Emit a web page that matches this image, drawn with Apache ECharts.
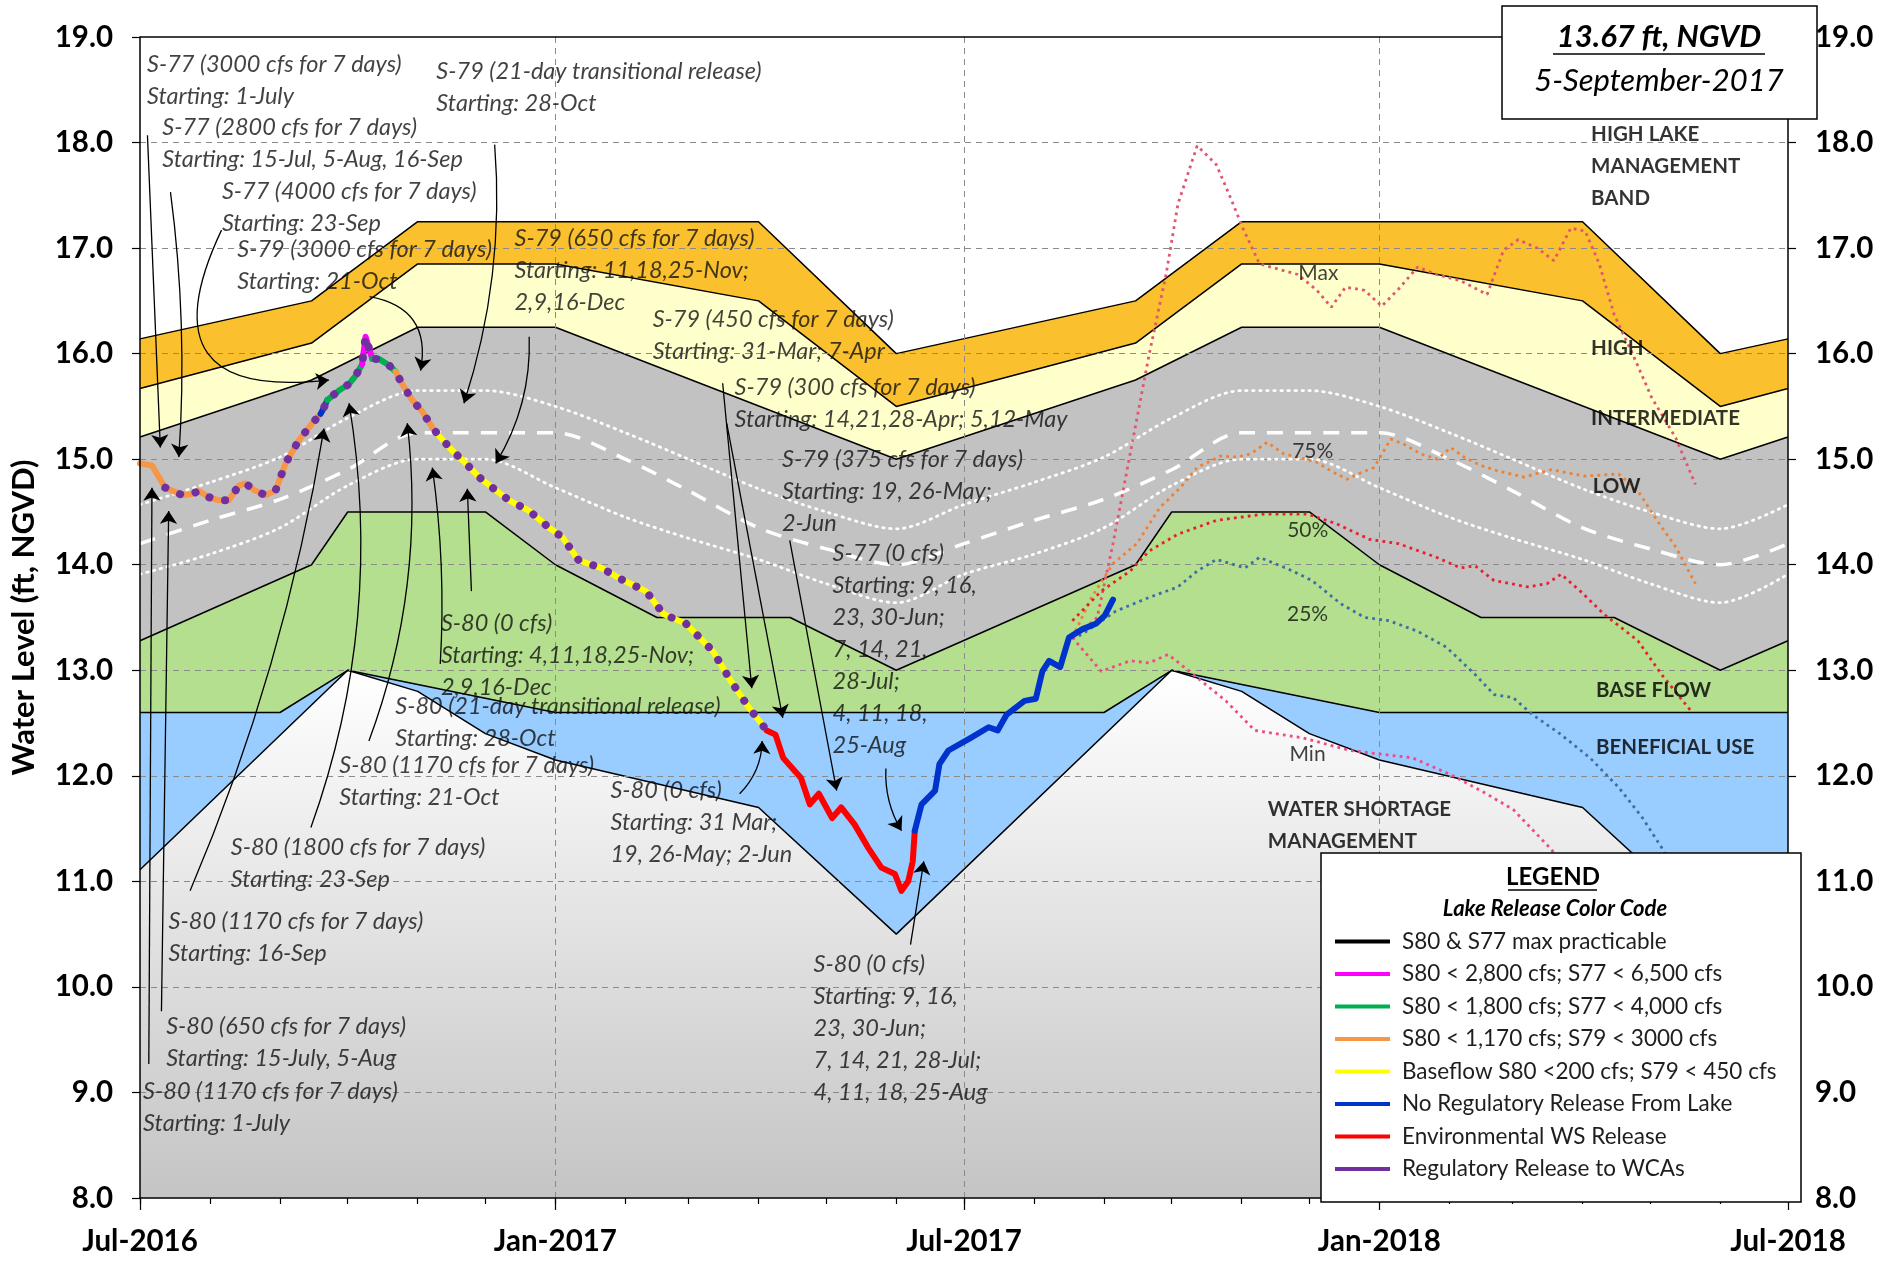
<!DOCTYPE html>
<html>
<head>
<meta charset="utf-8">
<title>Lake Okeechobee Water Level</title>
<script src="https://cdn.jsdelivr.net/npm/echarts@6.0.0/dist/echarts.min.js"></script>
<style>
html,body{margin:0;padding:0;background:#ffffff;}
#chart{width:1883px;height:1262px;}
</style>
</head>
<body>
<div id="chart"></div>
<script>
// ---------------- axes / ticks ----------------
const xStart = '2016-07-01', xEnd = '2018-07-01';
const xLabelDates = ['2016-07-01','2017-01-01','2017-07-01','2018-01-01','2018-07-01'];
const xGridDates = ['2017-01-01','2017-07-01','2018-01-01'];
const MONTHS = ['Jan','Feb','Mar','Apr','May','Jun','Jul','Aug','Sep','Oct','Nov','Dec'];
const MONTHS_FULL = ['January','February','March','April','May','June','July','August','September','October','November','December'];
const yMin = 8, yMax = 19, yStep = 1;
const yAxisName = 'Water Level (ft, NGVD)';

// ---------------- regulation schedule lines (date, ft NGVD) ----------------
const hlmbTop = [['2016-07-01',16.14],['2016-09-15',16.5],['2016-11-01',17.25],['2017-04-01',17.25],['2017-06-01',16.0],['2017-09-15',16.5],['2017-11-01',17.25],['2018-04-01',17.25],['2018-06-01',16.0],['2018-07-01',16.14]];
const highTop = [['2016-07-01',15.67],['2016-09-15',16.1],['2016-11-01',16.85],['2017-01-01',16.85],['2017-04-01',16.5],['2017-06-01',15.5],['2017-09-15',16.1],['2017-11-01',16.85],['2018-01-01',16.85],['2018-04-01',16.5],['2018-06-01',15.5],['2018-07-01',15.67]];
const intermediateTop = [['2016-07-01',15.21],['2016-09-15',15.75],['2016-11-01',16.25],['2017-01-01',16.25],['2017-06-01',15.0],['2017-09-15',15.75],['2017-11-01',16.25],['2018-01-01',16.25],['2018-06-01',15.0],['2018-07-01',15.21]];
const baseFlowTop = [['2016-07-01',13.28],['2016-09-15',14.0],['2016-10-01',14.5],['2016-12-01',14.5],['2017-01-01',14.0],['2017-02-15',13.5],['2017-04-15',13.5],['2017-06-01',13.0],['2017-09-15',14.0],['2017-10-01',14.5],['2017-12-01',14.5],['2018-01-01',14.0],['2018-02-15',13.5],['2018-04-15',13.5],['2018-06-01',13.0],['2018-07-01',13.28]];
const beneficialTop = [['2016-07-01',12.6],['2016-09-01',12.6],['2016-10-01',13.0],['2017-01-01',12.6],['2017-09-01',12.6],['2017-10-01',13.0],['2018-01-01',12.6],['2018-07-01',12.6]];
const wsmTop = [['2016-07-01',11.11],['2016-10-01',13.0],['2016-11-01',12.8],['2016-12-01',12.4],['2017-01-01',12.15],['2017-04-01',11.7],['2017-06-01',10.5],['2017-10-01',13.0],['2017-11-01',12.8],['2017-12-01',12.4],['2018-01-01',12.15],['2018-04-01',11.7],['2018-06-01',10.5],['2018-07-01',11.11]];

// low sub-band guide lines (white)
const lowUpper = [['2016-07-01',14.57],['2016-08-01',14.78],['2016-09-01',15.02],['2016-10-01',15.39],['2016-11-01',15.65],['2016-12-01',15.65],['2017-01-01',15.5],['2017-02-01',15.25],['2017-03-01',15.0],['2017-04-01',14.72],['2017-05-01',14.5],['2017-06-01',14.34],['2017-07-01',14.57],['2017-08-01',14.78],['2017-09-01',15.02],['2017-10-01',15.39],['2017-11-01',15.65],['2017-12-01',15.65],['2018-01-01',15.5],['2018-02-01',15.25],['2018-03-01',15.0],['2018-04-01',14.72],['2018-05-01',14.5],['2018-06-01',14.34],['2018-07-01',14.57]];
const lowMiddle = [['2016-07-01',14.2],['2016-08-01',14.42],['2016-09-01',14.62],['2016-10-01',14.9],['2016-11-01',15.25],['2017-01-01',15.25],['2017-02-01',15.0],['2017-03-01',14.7],['2017-04-01',14.35],['2017-05-01',14.15],['2017-06-01',14.0],['2017-07-01',14.2],['2017-08-01',14.42],['2017-09-01',14.62],['2017-10-01',14.9],['2017-11-01',15.25],['2018-01-01',15.25],['2018-02-01',15.0],['2018-03-01',14.7],['2018-04-01',14.35],['2018-05-01',14.15],['2018-06-01',14.0],['2018-07-01',14.2]];
const lowLower = [['2016-07-01',13.91],['2016-08-01',14.1],['2016-09-01',14.35],['2016-10-01',14.75],['2016-11-01',15.0],['2016-12-01',15.0],['2017-01-01',14.73],['2017-02-01',14.45],['2017-03-01',14.25],['2017-04-01',14.05],['2017-05-01',13.82],['2017-06-01',13.64],['2017-07-01',13.91],['2017-08-01',14.1],['2017-09-01',14.35],['2017-10-01',14.75],['2017-11-01',15.0],['2017-12-01',15.0],['2018-01-01',14.73],['2018-02-01',14.45],['2018-03-01',14.25],['2018-04-01',14.05],['2018-05-01',13.82],['2018-06-01',13.64],['2018-07-01',13.91]];

// ---------------- observed lake stage (days since 2016-07-01, ft) ----------------
const stageOrange1 = [[0,14.96],[5.3,14.94],[11.2,14.73],[15.7,14.69],[18.6,14.66],[23.1,14.67],[26,14.70],[30.5,14.64],[34.9,14.61],[39.3,14.61],[43.8,14.75],[46.7,14.77],[51.1,14.70],[55.6,14.66],[60,14.70],[64.5,14.96],[70.4,15.18],[76.3,15.34],[80,15.43]];
const stageBlue1 = [[80,15.43],[81.5,15.49],[82.9,15.56]];
const stageGreen1 = [[82.9,15.56],[88.1,15.65],[92.5,15.71],[95.5,15.79],[98.4,15.90]];
const stageMagenta = [[98.4,15.90],[99.9,16.16],[102.9,15.95]];
const stageGreen2 = [[102.9,15.95],[105.8,15.95],[110.3,15.89],[113.2,15.83]];
const stageOrange2 = [[113.2,15.83],[116.2,15.71],[120.6,15.56],[125.1,15.45],[129.5,15.30],[132.5,15.22]];
const stageYellow = [[132.5,15.22],[138.4,15.08],[144.3,14.96],[150.2,14.83],[156.1,14.73],[163.5,14.61],[172.4,14.51],[181.2,14.35],[187.1,14.26],[194.4,14.04],[204.3,13.97],[214.2,13.85],[224.1,13.75],[232,13.53],[241.9,13.44],[253.8,13.18],[261.7,12.90],[269.6,12.65],[277.6,12.43]];
const stageRed = [[277.6,12.43],[281.5,12.39],[284.9,12.17],[292.8,11.98],[296.7,11.73],[300.7,11.83],[306.6,11.60],[310.6,11.70],[316.5,11.54],[322.5,11.32],[328.4,11.13],[334.4,11.07],[337.3,10.91],[340.3,11.00],[342.3,11.19],[343.2,11.48]];
const stageBlue2 = [[343.2,11.48],[346.2,11.73],[352.2,11.86],[354.1,12.11],[358.1,12.24],[368,12.36],[375.9,12.46],[379.9,12.43],[383.9,12.58],[391.8,12.71],[396.8,12.73],[399.7,12.99],[402.7,13.09],[407.6,13.03],[411.5,13.31],[417.5,13.39],[423.4,13.44],[427.4,13.52],[431,13.67]];
const wcaReleaseRange = [11, 277.6];   // regulatory release to WCAs (purple overlay), days

// ---------------- position analysis projections (days since 2016-07-01, ft) ----------------
const pctMax = [[416,13.35],[424,13.5],[431,14.2],[438.6,15.05],[447,15.99],[454.5,16.75],[459.8,17.42],[468.3,17.97],[476.8,17.79],[483,17.48],[488.5,17.19],[495.9,16.85],[504.3,16.8],[512.9,16.75],[521.3,16.6],[527.7,16.44],[534,16.63],[542.5,16.6],[550,16.45],[557.4,16.61],[565.9,16.82],[574.3,16.75],[585,16.69],[596.7,16.56],[604,16.98],[610.5,17.08],[618.9,17.0],[626.3,16.88],[633.8,17.19],[640.2,17.16],[646.4,16.85],[653,16.37],[661.3,15.99],[669.7,15.58],[680.3,15.2],[689,14.76]];
const pct75 = [[413,13.31],[421.5,13.69],[431,14.01],[441.6,14.2],[451.7,14.54],[460.8,14.73],[468.2,14.92],[478.6,15.03],[486,15.02],[491.9,15.05],[499.3,15.16],[506.7,15.05],[512.6,15.02],[521.4,14.97],[527.4,14.89],[534.7,14.81],[540.7,14.87],[546.6,14.92],[554,15.19],[560,15.14],[567.3,15.05],[574.7,15.0],[580.6,15.11],[586.5,15.02],[594,14.94],[601.3,14.89],[613.1,14.83],[625,14.9],[640,14.84],[655,14.86],[663.5,14.7],[672,14.42],[680.5,14.16],[689,13.82]];
const pct50 = [[413,13.47],[425.8,13.75],[438.6,13.94],[447,14.13],[459.8,14.29],[476.8,14.42],[498,14.48],[517,14.48],[529.8,14.39],[544.7,14.24],[557.4,14.2],[574.3,14.07],[585,13.97],[591.4,13.99],[599.8,13.85],[614.7,13.79],[623.2,13.82],[629.5,13.91],[638,13.75],[648.6,13.53],[663.5,13.28],[674,12.96],[686.8,12.62]];
const pct25 = [[413,13.3],[417.3,13.34],[432.2,13.56],[447,13.69],[459.8,13.79],[468.3,13.94],[476.8,14.05],[489.5,13.97],[495.9,14.07],[508.6,13.96],[519.2,13.85],[531.9,13.63],[542.5,13.5],[553.2,13.47],[565.9,13.37],[578.6,13.22],[591.4,12.96],[599.8,12.77],[608.3,12.74],[616.8,12.58],[629.5,12.39],[642.3,12.17],[655,11.89],[665.6,11.6],[674,11.32],[684,10.95]];
const pctMin = [[413,13.31],[425.8,12.99],[438.6,13.09],[447,13.07],[455.5,13.15],[468.3,12.93],[481,12.71],[493.8,12.43],[515,12.36],[536,12.24],[563.7,12.17],[580.7,12.01],[595.6,11.84],[608.3,11.68],[625.3,11.3],[636,10.95]];

// ---------------- legend ----------------
const releaseNames = ['S80 & S77 max practicable','S80 < 2,800 cfs; S77 < 6,500 cfs','S80 < 1,800 cfs; S77 < 4,000 cfs','S80 < 1,170 cfs; S79 < 3000 cfs','Baseflow S80 <200 cfs; S79 < 450 cfs','No Regulatory Release From Lake','Environmental WS Release','Regulatory Release to WCAs'];
const releaseColors = ['#000000','#FF00FF','#00B050','#F79646','#FFFF00','#0033CC','#FF0000','#7030A0'];

// ---------------- text annotations (anchor: day offset, ft) ----------------
const annotations = [
 {d:3.3, v:18.89, text:'S-77 (3000 cfs for 7 days)\nStarting: 1-July'},
 {d:10.1, v:18.29, text:'S-77 (2800 cfs for 7 days)\nStarting: 15-Jul, 5-Aug, 16-Sep'},
 {d:36.5, v:17.68, text:'S-77 (4000 cfs for 7 days)\nStarting: 23-Sep'},
 {d:43.3, v:17.13, text:'S-79 (3000 cfs for 7 days)\nStarting: 21-Oct'},
 {d:131.5, v:18.82, text:'S-79 (21-day transitional release)\nStarting: 28-Oct'},
 {d:166.1, v:17.24, text:'S-79 (650 cfs for 7 days)\nStarting: 11,18,25-Nov;\n2,9,16-Dec'},
 {d:227.3, v:16.47, text:'S-79 (450 cfs for 7 days)\nStarting: 31-Mar; 7-Apr'},
 {d:263.6, v:15.83, text:'S-79 (300 cfs for 7 days)\nStarting: 14,21,28-Apr; 5,12-May'},
 {d:284.6, v:15.14, text:'S-79 (375 cfs for 7 days)\nStarting: 19, 26-May;\n2-Jun'},
 {d:307, v:14.25, text:'S-77 (0 cfs)\nStarting: 9, 16,\n23, 30-Jun;\n7, 14, 21,\n28-Jul;\n4, 11, 18,\n25-Aug'},
 {d:133.5, v:13.59, text:'S-80 (0 cfs)\nStarting: 4,11,18,25-Nov;\n2,9,16-Dec'},
 {d:113.3, v:12.80, text:'S-80 (21-day transitional release)\nStarting: 28-Oct'},
 {d:88.5, v:12.25, text:'S-80 (1170 cfs for 7 days)\nStarting: 21-Oct'},
 {d:208.6, v:12.01, text:'S-80 (0 cfs)\nStarting: 31 Mar;\n19, 26-May; 2-Jun'},
 {d:40.4, v:11.47, text:'S-80 (1800 cfs for 7 days)\nStarting: 23-Sep'},
 {d:12.9, v:10.77, text:'S-80 (1170 cfs for 7 days)\nStarting: 16-Sep'},
 {d:11.8, v:9.77, text:'S-80 (650 cfs for 7 days)\nStarting: 15-July, 5-Aug'},
 {d:1.6, v:9.16, text:'S-80 (1170 cfs for 7 days)\nStarting: 1-July'},
 {d:298.6, v:10.36, text:'S-80 (0 cfs)\nStarting: 9, 16,\n23, 30-Jun;\n7, 14, 21, 28-Jul;\n4, 11, 18, 25-Aug'}
];
const arrows = [
 {from:[3.3,18.07], to:[9.0,15.11], curve:0},
 {from:[13.5,17.53], to:[17.2,15.02], curve:0.05},
 {from:[36.1,17.17], to:[83.7,15.75], curve:-0.9},
 {from:[101.7,16.54], to:[124.3,15.84], curve:0.5},
 {from:[157.1,17.98], to:[143.5,15.53], curve:0.1},
 {from:[172.4,16.16], to:[157.6,14.96], curve:0.15},
 {from:[258.1,15.72], to:[271,12.83], curve:0},
 {from:[259.9,15.34], to:[284.7,12.55], curve:0},
 {from:[287.8,14.23], to:[308.6,11.86], curve:0},
 {from:[330.4,12.07], to:[337.3,11.48], curve:-0.15},
 {from:[341.3,10.40], to:[347.2,11.19], curve:0},
 {from:[265.6,11.83], to:[275.6,12.33], curve:-0.2},
 {from:[3.9,9.27], to:[5.3,14.73], curve:0},
 {from:[9.5,9.77], to:[12.7,14.51], curve:0},
 {from:[22.2,10.91], to:[81.5,15.29], curve:-0.06},
 {from:[75.7,11.51], to:[92.6,15.53], curve:-0.13},
 {from:[101.4,12.33], to:[118.4,15.34], curve:-0.12},
 {from:[133,13.06], to:[129.5,14.92], curve:-0.05},
 {from:[146.8,13.75], to:[145,14.72], curve:0}
];
const bandLabels = [
 {d:643, v:18.22, text:'HIGH LAKE\nMANAGEMENT\nBAND'},
 {d:643, v:16.20, text:'HIGH'},
 {d:643, v:15.53, text:'INTERMEDIATE'},
 {d:643.7, v:14.89, text:'LOW'},
 {d:645.2, v:12.96, text:'BASE FLOW'},
 {d:645.2, v:12.42, text:'BENEFICIAL USE'},
 {d:499.8, v:11.83, text:'WATER SHORTAGE\nMANAGEMENT'}
];
const pctLabels = [
 {d:522.2, v:16.76, text:'Max'},
 {d:519.7, v:15.07, text:'75%'},
 {d:517.5, v:14.32, text:'50%'},
 {d:517.4, v:13.53, text:'25%'},
 {d:517.4, v:12.20, text:'Min'}
];

// ---------------- helpers ----------------
const FONT = 'Lato, "Open Sans", "DejaVu Sans", sans-serif';
const DAY = 86400000;
function ts(s){ const p = s.split('-').map(Number); return Date.UTC(p[0], p[1]-1, p[2]); }
const T0 = ts(xStart);
function dayTs(d){ return T0 + d * DAY; }
function dated(arr){ return arr.map(p => [ts(p[0]), p[1]]); }
function daily(arr){ return arr.map(p => [dayTs(p[0]), p[1]]); }

const monthTicks = [];
for (let i = 0; i <= 24; i++) monthTicks.push(Date.UTC(2016, 6 + i, 1));

const series = [];
function band(data, fill) {
  series.push({type:'line', data: dated(data), symbol:'none', z:1, silent:true,
    lineStyle:{color:'#000', width:1.5}, itemStyle:{color:'#000'},
    areaStyle:{color:fill, opacity:1, origin:'start'}});
}
band(hlmbTop, '#FBC02D');
band(highTop, '#FFFFCC');
band(intermediateTop, '#C2C2C2');
band(baseFlowTop, '#B4DF8E');
band(beneficialTop, '#99CCFF');
band(wsmTop, new echarts.graphic.LinearGradient(0,0,0,1,[{offset:0,color:'#FFFFFF'},{offset:1,color:'#C4C4C4'}]));

// grid lines over bands
const gridMarks = [];
for (let v = yMin + yStep; v < yMax; v += yStep) gridMarks.push({yAxis:v});
xGridDates.forEach(s => gridMarks.push({xAxis: ts(s)}));
gridMarks.push({yAxis:yMax, lineStyle:{color:'#000', type:'solid', width:1.5}});
series.push({type:'line', data:[[T0, null]], symbol:'none', silent:true, z:2,
  markLine:{silent:true, z:2, symbol:['none','none'], label:{show:false}, animation:false,
    lineStyle:{color:'#8a8a8a', type:[6,5], width:1},
    data: gridMarks}});

// white guide lines
series.push({type:'line', data:dated(lowUpper), symbol:'none', z:3, silent:true, smooth:0.3,
  lineStyle:{color:'#FFFFFF', width:2.8, type:[1.5,5.5], cap:'round'}});
series.push({type:'line', data:dated(lowMiddle), symbol:'none', z:3, silent:true, smooth:0.3,
  lineStyle:{color:'#FFFFFF', width:3.5, type:[16,12]}});
series.push({type:'line', data:dated(lowLower), symbol:'none', z:3, silent:true, smooth:0.3,
  lineStyle:{color:'#FFFFFF', width:2.8, type:[1.5,5.5], cap:'round'}});

// projections
function proj(data, color) {
  series.push({type:'line', data:daily(data), symbol:'none', z:4, silent:true,
    lineStyle:{color:color, width:2.8, type:[2.8,4.2]}});
}
proj(pctMax, '#E05570');
proj(pct75, '#F0802E');
proj(pct50, '#E8202E');
proj(pct25, '#3D6FA6');
proj(pctMin, '#EE4A86');

// observed stage, coloured by release category
function stage(pts, idx) {
  const c = releaseColors[idx];
  series.push({type:'line', name:releaseNames[idx], data:daily(pts), symbol:'none', z:5, silent:true,
    color:c, itemStyle:{color:c}, lineStyle:{color:c, width:6, cap:'round', join:'round'}});
}
stage(stageOrange1, 3);
stage(stageBlue1, 5);
stage(stageGreen1, 2);
stage(stageMagenta, 1);
stage(stageGreen2, 2);
stage(stageOrange2, 3);
stage(stageYellow, 4);
stage(stageRed, 6);
stage(stageBlue2, 5);
const stageAll = [].concat(stageOrange1, stageBlue1, stageGreen1, stageMagenta, stageGreen2, stageOrange2, stageYellow);
const purple = stageAll.filter(p => p[0] >= wcaReleaseRange[0] && p[0] <= wcaReleaseRange[1]);
series.push({type:'line', name:releaseNames[7], data:daily(purple), symbol:'none', z:6, silent:true,
  color:releaseColors[7], itemStyle:{color:releaseColors[7]},
  lineStyle:{color:releaseColors[7], width:8, type:[0.1,16], cap:'round'}});
series.push({type:'line', name:releaseNames[0], data:[], symbol:'none', z:5, silent:true,
  color:releaseColors[0], itemStyle:{color:releaseColors[0]}, lineStyle:{color:releaseColors[0], width:4}});

// arrows
series.push({type:'lines', coordinateSystem:'cartesian2d', xAxisIndex:0, yAxisIndex:0, z:7, silent:true,
  symbol:['none','arrow'], symbolSize:13, animation:false,
  lineStyle:{color:'#000', width:1.3, opacity:1},
  data: arrows.map(a => ({coords:[[dayTs(a.from[0]), a.from[1]],[dayTs(a.to[0]), a.to[1]]], lineStyle:{curveness:a.curve}}))});

// text labels
function textSeries(items, label) {
  series.push({type:'scatter', z:8, silent:true, symbol:'circle', symbolSize:1,
    itemStyle:{color:'rgba(0,0,0,0)'},
    data: items.map(a => ({value:[dayTs(a.d), a.v], label:{formatter:a.text}})),
    label: Object.assign({show:true, position:[0,0]}, label)});
}
textSeries(annotations, {align:'left', verticalAlign:'top', fontFamily:FONT, fontStyle:'italic', fontSize:23.5, lineHeight:32, color:'#111'});
textSeries(bandLabels, {align:'left', verticalAlign:'top', fontFamily:FONT, fontWeight:'bold', fontSize:20.5, lineHeight:32, color:'#000'});
textSeries(pctLabels, {align:'center', verticalAlign:'middle', fontFamily:FONT, fontSize:21, color:'#111'});

const last = stageBlue2[stageBlue2.length-1];
const lastDate = new Date(dayTs(last[0]));
const lastDateText = lastDate.getUTCDate() + '-' + MONTHS_FULL[lastDate.getUTCMonth()] + '-' + lastDate.getUTCFullYear();

function fmtMonth(v){ const d = new Date(Math.round(v)); return MONTHS[d.getUTCMonth()] + '-' + d.getUTCFullYear(); }
const axisFont = {fontFamily:FONT, fontWeight:'bold', fontSize:29.5, color:'#000'};
const chart = echarts.init(document.getElementById('chart'), null, {renderer:'canvas'});
chart.setOption({
  animation:false,
  backgroundColor:'#ffffff',
  grid:{left:138, right:95, top:37, bottom:64, containLabel:false},
  xAxis:[{
    type:'value', min:ts(xStart), max:ts(xEnd), z:10, scale:true,
    axisLine:{show:true, lineStyle:{color:'#000', width:1.5}},
    axisTick:{show:true, customValues:monthTicks, length:6, lineStyle:{color:'#000', width:1.2}},
    axisLabel:Object.assign({customValues:xLabelDates.map(ts), margin:28, showMinLabel:true, showMaxLabel:true, hideOverlap:false,
      formatter:fmtMonth}, axisFont),
    splitLine:{show:false}
  },{
    type:'value', min:ts(xStart), max:ts(xEnd), position:'bottom', z:10, scale:true,
    axisLine:{show:false},
    axisTick:{show:true, customValues:xLabelDates.map(ts), length:12, lineStyle:{color:'#000', width:1.2}},
    axisLabel:{show:false}, splitLine:{show:false}
  }],
  yAxis:[{
    type:'value', min:yMin, max:yMax, interval:yStep, position:'left', z:10,
    name:yAxisName, nameLocation:'middle', nameGap:101, nameRotate:90,
    nameTextStyle:{fontFamily:FONT, fontWeight:'bold', fontSize:31, color:'#000'},
    axisLine:{show:true, lineStyle:{color:'#000', width:1.5}},
    axisTick:{show:true, length:8, lineStyle:{color:'#000', width:1.2}},
    axisLabel:Object.assign({margin:27, formatter:function(v){ return v.toFixed(1); }}, axisFont),
    splitLine:{show:false}
  },{
    type:'value', min:yMin, max:yMax, interval:yStep, position:'right', z:10,
    axisLine:{show:true, lineStyle:{color:'#000', width:1.5}},
    axisTick:{show:true, length:8, lineStyle:{color:'#000', width:1.2}},
    axisLabel:Object.assign({margin:27, formatter:function(v){ return v.toFixed(1); }}, axisFont),
    splitLine:{show:false}
  }],
  legend:{
    data:releaseNames, orient:'vertical', left:1335, top:930, padding:0, z:60,
    itemWidth:55, itemHeight:4, itemGap:9.5, icon:'rect', selectedMode:false,
    textStyle:{fontFamily:FONT, fontSize:22.5, color:'#1e1e1e', lineHeight:22, padding:[0,0,0,7]}
  },
  graphic:[
    {type:'rect', z:50, shape:{x:1321, y:853, width:480, height:349}, style:{fill:'#fff', stroke:'#000', lineWidth:1.5}},
    {type:'text', z:51, x:1553, y:877, style:{text:'LEGEND', font:'bold 24px ' + FONT, fill:'#000', align:'center', verticalAlign:'middle'}},
    {type:'line', z:51, shape:{x1:1508, y1:890, x2:1597, y2:890}, style:{stroke:'#000', lineWidth:1.5}},
    {type:'text', z:51, x:1555, y:909, style:{text:'Lake Release Color Code', font:'italic bold 22px ' + FONT, fill:'#000', align:'center', verticalAlign:'middle'}},
    {type:'rect', z:50, shape:{x:1502, y:6, width:315, height:113}, style:{fill:'#fff', stroke:'#000', lineWidth:1.5}},
    {type:'text', z:51, x:1659, y:37, style:{text:last[1].toFixed(2) + ' ft, NGVD', font:'italic bold 31px ' + FONT, fill:'#000', align:'center', verticalAlign:'middle'}},
    {type:'line', z:51, shape:{x1:1553, y1:54, x2:1765, y2:54}, style:{stroke:'#000', lineWidth:1.5}},
    {type:'text', z:51, x:1659, y:81, style:{text:lastDateText, font:'italic 31px ' + FONT, fill:'#000', align:'center', verticalAlign:'middle'}}
  ],
  series:series
});
</script>
</body>
</html>
